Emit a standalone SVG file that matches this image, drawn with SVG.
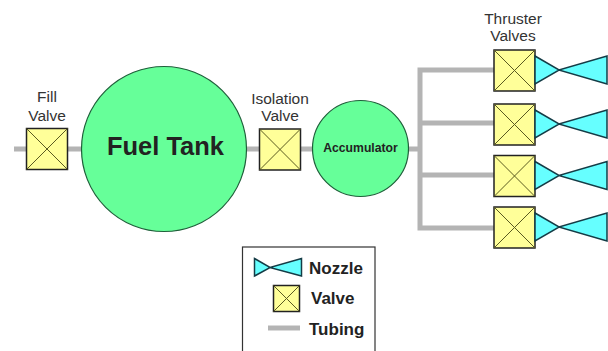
<svg xmlns="http://www.w3.org/2000/svg" width="608" height="351" viewBox="0 0 608 351">
<style>
text{font-family:"Liberation Sans",Arial,sans-serif;fill:#222}
.lab{font-size:15.500px;text-anchor:middle;fill:#333}
.leg{font-size:17px;font-weight:bold}
.tube{stroke:#b4b4b4;stroke-width:5;fill:none}
.tank{fill:#66ff99;stroke:#1f5f3a;stroke-width:1.2}
.box{fill:#ffff99;stroke:#222;stroke-width:1.5}
.x{stroke:#5a5a20;stroke-width:1;fill:none}
.noz{fill:#66ffff;stroke:#143c46;stroke-width:1.5;stroke-linejoin:miter}
</style>
<defs>
<g id="v"><rect class="box" x="0" y="0" width="41" height="41"/><path class="x" d="M0 0L41 41M41 0L0 41"/></g>
<path id="n" class="noz" d="M0 0L24 14L72 0V28L24 14L0 28Z"/>
</defs>
<rect width="608" height="351" fill="#fff"/>
<g id="connectors">
<path class="tube" d="M14 149H27M67 149H82M246 149H261M300 149H313M408 149H420M494 70H420V228H494M420 123H494M420 175H494"/>
</g>
<g id="fill-valve"><use href="#v" x="26.500" y="128.500"/><text class="lab" x="47" y="102">Fill</text><text class="lab" x="47" y="121">Valve</text></g>
<g id="fuel-tank"><circle class="tank" cx="164" cy="149" r="82.500"/><text x="165.500" y="155" font-size="25.500" font-weight="bold" text-anchor="middle" fill="#111">Fuel Tank</text></g>
<g id="isolation-valve"><use href="#v" x="259.500" y="129"/><text class="lab" x="280" y="104">Isolation</text><text class="lab" x="280" y="121">Valve</text></g>
<g id="accumulator"><circle class="tank" cx="360.500" cy="148.500" r="48"/><text x="360.500" y="152" font-size="12.200" font-weight="bold" text-anchor="middle" fill="#111">Accumulator</text></g>
<g id="thruster-label"><text class="lab" x="513" y="24">Thruster</text><text class="lab" x="513" y="41">Valves</text></g>
<g id="thruster-1"><use href="#v" x="494" y="50"/><use href="#n" x="535" y="56"/></g>
<g id="thruster-2"><use href="#v" x="494" y="104"/><use href="#n" x="535" y="110"/></g>
<g id="thruster-3"><use href="#v" x="494" y="155.500"/><use href="#n" x="535" y="161.500"/></g>
<g id="thruster-4"><use href="#v" x="494" y="207"/><use href="#n" x="535" y="213"/></g>
<g id="legend">
<rect x="242.500" y="247" width="132.500" height="110" fill="#fff" stroke="#333" stroke-width="1.2"/>
<path class="noz" d="M254.500 258.500L270 267.500L301.500 258.500V276L270 267.500L254.500 276Z"/>
<rect class="box" x="273.500" y="285.500" width="26" height="26"/><path class="x" d="M273.500 285.500L299.500 311.500M299.500 285.500L273.500 311.500"/>
<path class="tube" d="M268 328H300"/>
<text class="leg" x="309" y="274">Nozzle</text>
<text class="leg" x="311" y="304">Valve</text>
<text class="leg" x="309" y="335">Tubing</text>
</g>
</svg>
